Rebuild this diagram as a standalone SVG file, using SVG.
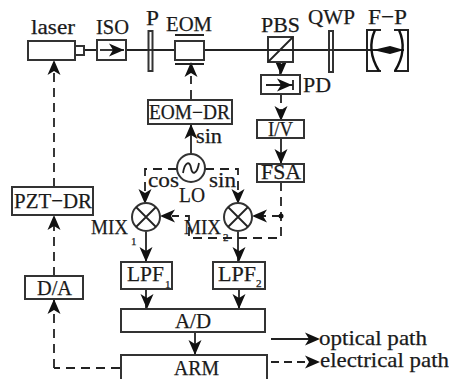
<svg xmlns="http://www.w3.org/2000/svg" width="449" height="379" viewBox="0 0 449 379">
<style>
text{font-family:"Liberation Serif","Times New Roman",serif;font-size:22px;fill:#1a1a1a;stroke:#1a1a1a;stroke-width:.25}
.sub{font-size:11px}
.mid{font-size:20px}
.b{fill:#fff;stroke:#333;stroke-width:2}
.n{fill:none;stroke:#222;stroke-width:2}
.s{fill:none;stroke:#222;stroke-width:1.8}
.d{fill:none;stroke:#222;stroke-width:1.8;stroke-dasharray:9 6}
</style>
<defs>
<path id="ah" d="M0 0L-15 -6.500L-11 0L-15 6.500Z" fill="#111"/>
</defs>
<g id="connectors">
<path class="s" d="M84 50H97M126 50H404"/>
<path class="d" d="M54 368V299M120 368H54M54 276V215M54 187V72"/>
<path class="d" d="M191 99V76M281 94V121M177 169H145V192M205 169H238V192"/>
<path class="s" d="M281 138V164"/>
<path class="d" d="M281 182V238H189V216H172M281 216H262"/>
<path class="s" d="M191 124V154M146 232V263M238 232V263M146 289V309M239 289V309"/>
<path class="s" d="M195 332V355M280 50V75"/>
<use href="#ah" transform="translate(54 60) rotate(-90)"/>
<use href="#ah" transform="translate(54 215) rotate(-90)"/>
<use href="#ah" transform="translate(54 299) rotate(-90)"/>
<use href="#ah" transform="translate(191 62) rotate(-90)"/>
<use href="#ah" transform="translate(191 124) rotate(-90)"/>
<use href="#ah" transform="translate(281 75) rotate(90)"/>
<use href="#ah" transform="translate(281 121) rotate(90)"/>
<use href="#ah" transform="translate(281 164) rotate(90)"/>
<use href="#ah" transform="translate(145 204) rotate(90)"/>
<use href="#ah" transform="translate(238 204) rotate(90)"/>
<use href="#ah" transform="translate(160 216) rotate(180)"/>
<use href="#ah" transform="translate(252 216) rotate(180)"/>
<use href="#ah" transform="translate(146 262) rotate(90)"/>
<use href="#ah" transform="translate(239 262) rotate(90)"/>
<use href="#ah" transform="translate(147 309) rotate(90)"/>
<use href="#ah" transform="translate(239 309) rotate(90)"/>
<use href="#ah" transform="translate(195 355) rotate(90)"/>
<circle cx="281" cy="216" r="2.500" fill="#111"/>
</g>
<g id="laser"><rect class="b" x="28" y="41" width="47" height="19"/><rect class="b" x="75" y="46" width="9" height="9"/><text x="31" y="34" textLength="44" lengthAdjust="spacingAndGlyphs">laser</text></g>
<g id="iso"><rect class="b" x="97" y="40" width="29" height="20"/><path class="s" d="M100 50H124"/><use href="#ah" transform="translate(124 50)"/><text x="96" y="34" textLength="33" lengthAdjust="spacingAndGlyphs">ISO</text></g>
<g id="p"><rect class="b" x="148.500" y="31" width="4" height="40"/><path class="s" d="M148 50H153"/><text x="146" y="25" textLength="13" lengthAdjust="spacingAndGlyphs">P</text></g>
<g id="eom"><rect class="b" x="175" y="41" width="29" height="19"/><path class="n" d="M175 35H204M175 64H204"/><text x="166" y="31" textLength="46" lengthAdjust="spacingAndGlyphs">EOM</text></g>
<g id="eom-dr"><rect class="b" x="148" y="100" width="84" height="24"/><text class="mid" x="149" y="119" textLength="81" lengthAdjust="spacingAndGlyphs">EOM−DR</text></g>
<g id="pbs"><rect class="b" x="268" y="37" width="25" height="25"/><path class="s" d="M268 62L293 37M225 50H404"/><text x="261" y="32" textLength="39" lengthAdjust="spacingAndGlyphs">PBS</text></g>
<g id="qwp"><rect class="b" x="329" y="31" width="4" height="41"/><path class="s" d="M329 50H333"/><text x="308" y="24" textLength="47" lengthAdjust="spacingAndGlyphs">QWP</text></g>
<g id="fp"><path class="n" d="M381 30H367V71H381M394 30H408V71H394"/><path fill="none" stroke="#111" stroke-width="2.400" d="M375 30Q366 50 379 71M399 30Q408 50 395 71"/><path d="M373 50L390 46L404 50L390 54Z" fill="#111"/><text x="368" y="24" textLength="39" lengthAdjust="spacingAndGlyphs">F−P</text></g>
<g id="pd"><rect class="b" x="261" y="75" width="39" height="19"/><path class="s" d="M266 85H293M293 80V90"/><use href="#ah" transform="translate(292 85)"/><text x="303" y="92" textLength="28" lengthAdjust="spacingAndGlyphs">PD</text></g>
<g id="iv"><rect class="b" x="257" y="120" width="47" height="18"/><text x="268" y="136" textLength="25" lengthAdjust="spacingAndGlyphs">I/V</text></g>
<g id="fsa"><rect class="b" x="257" y="164" width="47" height="18"/><text x="261" y="179" textLength="40" lengthAdjust="spacingAndGlyphs">FSA</text></g>
<g id="lo"><circle class="b" cx="191" cy="168" r="14"/><path class="s" d="M183 173C185 161 190 161 191 168C192 175 197 175 199 163"/><text x="179" y="202" textLength="26" lengthAdjust="spacingAndGlyphs">LO</text><text class="mid" x="196" y="143" textLength="26" lengthAdjust="spacingAndGlyphs">sin</text><text x="148" y="187" textLength="31" lengthAdjust="spacingAndGlyphs">cos</text><text x="209" y="187" textLength="27" lengthAdjust="spacingAndGlyphs">sin</text></g>
<g id="mix1"><circle class="b" cx="146" cy="217" r="14"/><path class="s" d="M136 207L156 227M156 207L136 227"/><text x="91" y="234" textLength="37" lengthAdjust="spacingAndGlyphs">MIX</text><text class="sub" x="131" y="245">1</text></g>
<g id="mix2"><circle class="b" cx="238" cy="217" r="14"/><path class="s" d="M228 207L248 227M248 207L228 227"/><text x="184" y="234" textLength="37" lengthAdjust="spacingAndGlyphs">MIX</text><text class="sub" x="223" y="241">2</text></g>
<g id="lpf1"><rect class="b" x="121" y="262" width="51" height="27"/><text x="127" y="281" textLength="37" lengthAdjust="spacingAndGlyphs">LPF</text><text class="sub" x="165" y="288">1</text></g>
<g id="lpf2"><rect class="b" x="213" y="262" width="52" height="27"/><text x="218" y="281" textLength="38" lengthAdjust="spacingAndGlyphs">LPF</text><text class="sub" x="256" y="287">2</text></g>
<g id="ad"><rect class="b" x="121" y="309" width="144" height="23"/><text x="175" y="328" textLength="36" lengthAdjust="spacingAndGlyphs">A/D</text></g>
<g id="arm"><path class="b" d="M121 379V355H267V379"/><text x="174" y="375" textLength="45" lengthAdjust="spacingAndGlyphs">ARM</text></g>
<g id="da"><rect class="b" x="25" y="276" width="58" height="23"/><text x="37" y="295" textLength="35" lengthAdjust="spacingAndGlyphs">D/A</text></g>
<g id="pzt-dr"><rect class="b" x="12" y="187" width="81" height="28"/><text x="14" y="208" textLength="78" lengthAdjust="spacingAndGlyphs">PZT−DR</text></g>
<g id="legend"><path class="n" d="M271 339H310"/><use href="#ah" transform="translate(320 339)"/><path class="d" d="M271 362H310" style="stroke-dasharray:8 5"/><use href="#ah" transform="translate(320 362)"/><text x="319" y="345" textLength="108" lengthAdjust="spacingAndGlyphs">optical path</text><text x="320" y="367" textLength="129" lengthAdjust="spacingAndGlyphs">electrical path</text></g>
</svg>
